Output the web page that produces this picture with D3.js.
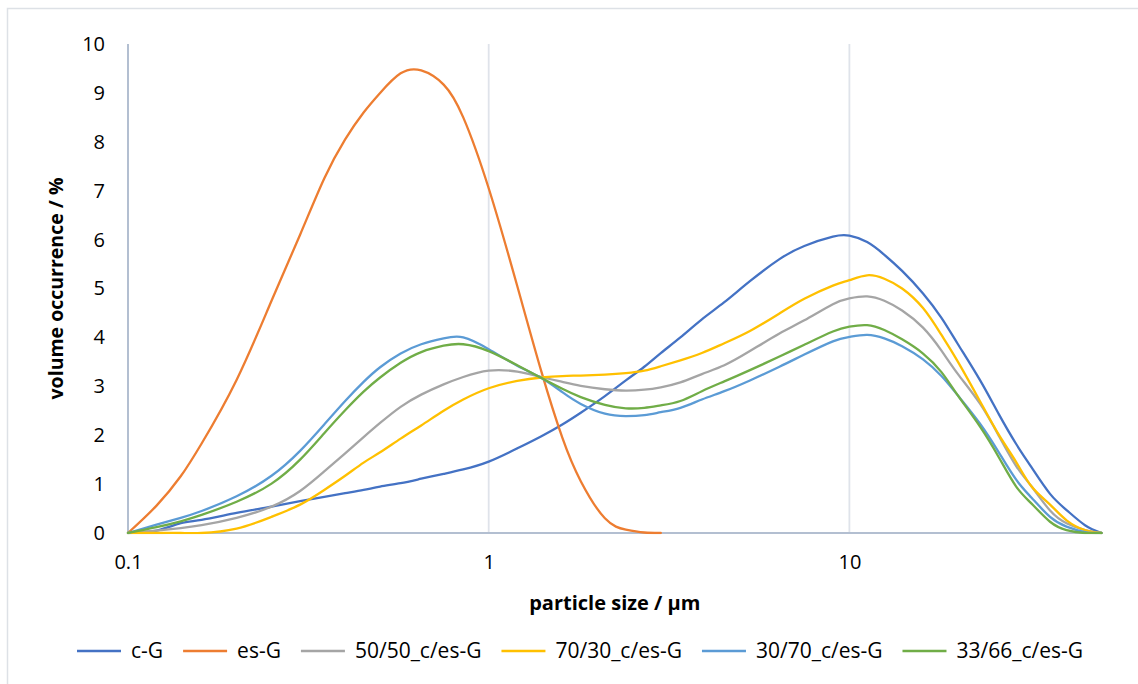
<!DOCTYPE html>
<html>
<head>
<meta charset="utf-8">
<script src="https://cdn.jsdelivr.net/npm/d3@7"></script>
<style>
  html, body { margin: 0; padding: 0; background: #fff; }
  svg { display: block; font-family: "Open Sans", "Liberation Sans", sans-serif; }
</style>
</head>
<body>
<svg id="chart" width="1138" height="684"></svg>
<script>
// Particle size bins (µm)
const sizes = [0.1, 0.12, 0.14, 0.16, 0.2, 0.25, 0.3, 0.35, 0.4, 0.45, 0.5, 0.57, 0.65, 0.75, 0.85,
  1, 1.2, 1.4, 1.6, 1.8, 2.1, 2.4, 2.7, 3.0, 3.4, 3.9, 4.5, 5.3, 6.4, 7.5, 9,
  10, 11.2, 12.5, 14, 16, 18, 20, 23, 26, 29, 32, 36, 40, 45, 50];

// Volume occurrence (%) for each sample
const cG = [0, 0.05, 0.2, 0.27, 0.41, 0.54, 0.65, 0.74, 0.815, 0.88, 0.95, 1.02, 1.11, 1.21, 1.3,
  1.46, 1.73, 1.98, 2.22, 2.46, 2.8, 3.12, 3.4, 3.68, 4.0, 4.37, 4.72, 5.15, 5.6, 5.87, 6.06,
  6.08, 5.95, 5.69, 5.36, 4.9, 4.4, 3.86, 3.13, 2.42, 1.82, 1.34, 0.8, 0.47, 0.16, 0];
const esG = [0, 0.56, 1.16, 1.83, 3.13, 4.75, 6.1, 7.25, 8.05, 8.6, 9.0, 9.4, 9.46, 9.17, 8.5,
  7.05, 5.05, 3.3, 1.95, 1.06, 0.3, 0.07, 0.01, 0, null, null, null, null, null, null, null,
  null, null, null, null, null, null, null, null, null, null, null, null, null, null, null];
const g5050 = [0, 0.05, 0.1, 0.16, 0.31, 0.54, 0.86, 1.26, 1.63, 1.96, 2.25, 2.58, 2.83, 3.04, 3.19,
  3.32, 3.3, 3.19, 3.09, 3.01, 2.94, 2.91, 2.93, 2.98, 3.08, 3.25, 3.43, 3.72, 4.08, 4.35, 4.68,
  4.8, 4.84, 4.75, 4.55, 4.2, 3.73, 3.25, 2.65, 1.98, 1.37, 0.95, 0.46, 0.2, 0.06, 0];
const g7030 = [0, 0, 0, 0, 0.09, 0.33, 0.58, 0.88, 1.17, 1.44, 1.65, 1.93, 2.2, 2.5, 2.73,
  2.96, 3.11, 3.18, 3.21, 3.22, 3.24, 3.27, 3.32, 3.41, 3.53, 3.68, 3.88, 4.13, 4.49, 4.79, 5.06,
  5.17, 5.27, 5.2, 5.0, 4.6, 4.05, 3.5, 2.7, 2.0, 1.45, 0.95, 0.58, 0.26, 0.06, 0];
const g3070 = [0, 0.17, 0.31, 0.45, 0.75, 1.17, 1.68, 2.22, 2.7, 3.09, 3.39, 3.67, 3.86, 3.98, 4.0,
  3.76, 3.42, 3.17, 2.88, 2.64, 2.44, 2.39, 2.41, 2.47, 2.56, 2.73, 2.9, 3.12, 3.4, 3.65, 3.92,
  4.01, 4.05, 3.98, 3.82, 3.55, 3.21, 2.81, 2.24, 1.64, 1.09, 0.72, 0.33, 0.13, 0.02, 0];
const g3366 = [0, 0.12, 0.24, 0.37, 0.64, 1.01, 1.5, 2.04, 2.51, 2.89, 3.18, 3.48, 3.7, 3.83, 3.86,
  3.72, 3.43, 3.17, 2.95, 2.78, 2.62, 2.55, 2.56, 2.61, 2.7, 2.9, 3.1, 3.33, 3.61, 3.85, 4.12,
  4.22, 4.25, 4.15, 3.96, 3.67, 3.29, 2.81, 2.18, 1.54, 0.95, 0.6, 0.23, 0.06, 0, 0];

const seriesNames = ["c-G", "es-G", "50/50_c/es-G", "70/30_c/es-G", "30/70_c/es-G", "33/66_c/es-G"];
const seriesColors = ["#4472C4", "#ED7D31", "#A5A5A5", "#FFC000", "#5B9BD5", "#70AD47"];
const seriesValues = [cG, esG, g5050, g7030, g3070, g3366];

const xTicks = [0.1, 1, 10];
const yTicks = [0, 1, 2, 3, 4, 5, 6, 7, 8, 9, 10];

const svg = d3.select("#chart");

// Outer chart frame
svg.append("rect")
  .attr("x", 7.5).attr("y", 8.5)
  .attr("width", 1140).attr("height", 700)
  .attr("fill", "#fff").attr("stroke", "#dde1e6").attr("stroke-width", 1.5);

const x = d3.scaleLog().domain([0.1, 50]).range([128, 1101.5]);
const y = d3.scaleLinear().domain([0, 10]).range([533, 44]);

// Keep the smoothed curves from dipping below the x axis
svg.append("clipPath").attr("id", "plot-clip")
  .append("rect")
  .attr("x", x(0.1) - 4).attr("y", y(10) - 4)
  .attr("width", x(50) - x(0.1) + 10).attr("height", y(0) - y(10) + 5.2);

// Vertical gridlines
svg.append("g").selectAll("line")
  .data(xTicks.filter(t => t > 0.1))
  .join("line")
  .attr("x1", d => x(d)).attr("x2", d => x(d))
  .attr("y1", y(10)).attr("y2", y(0))
  .attr("stroke", "#dfe3ea").attr("stroke-width", 1.8);

// Axis lines
svg.append("line")
  .attr("x1", x(0.1)).attr("x2", x(0.1))
  .attr("y1", y(10)).attr("y2", y(0))
  .attr("stroke", "#b3bfd1").attr("stroke-width", 2);
svg.append("line")
  .attr("x1", x(0.1)).attr("x2", x(50))
  .attr("y1", y(0)).attr("y2", y(0))
  .attr("stroke", "#b3bfd1").attr("stroke-width", 2);

// Y axis labels
const yAxis = d3.axisLeft(y).tickValues(yTicks).tickSize(0).tickPadding(23).tickFormat(d3.format("d"));
const gy = svg.append("g").attr("transform", `translate(${x(0.1)},0)`).call(yAxis);
gy.select(".domain").remove();
gy.selectAll("text").attr("font-size", 20).attr("fill", "#000")
  .attr("font-family", "\"Open Sans\", sans-serif");

// X axis labels
const xAxis = d3.axisBottom(x).tickValues(xTicks).tickSize(0).tickPadding(22).tickFormat(d => String(d));
const gx = svg.append("g").attr("transform", `translate(0,${y(0)})`).call(xAxis);
gx.select(".domain").remove();
gx.selectAll("text").attr("font-size", 20).attr("fill", "#000")
  .attr("font-family", "\"Open Sans\", sans-serif");

// Axis titles
svg.append("text")
  .attr("transform", `translate(63,${(y(0) + y(10)) / 2}) rotate(-90)`)
  .attr("text-anchor", "middle")
  .attr("font-size", 19.5).attr("font-weight", "bold")
  .text("volume occurrence / %");
svg.append("text")
  .attr("x", (x(0.1) + x(50)) / 2).attr("y", 610)
  .attr("text-anchor", "middle")
  .attr("font-size", 20).attr("font-weight", "bold")
  .text("particle size / µm");

// Series curves, smoothed through the sample points
const line = d3.line()
  .defined(d => d[1] != null)
  .x(d => x(d[0]))
  .y(d => y(d[1]))
  .curve(d3.curveNatural);

svg.append("g").attr("clip-path", "url(#plot-clip)")
  .selectAll("path")
  .data(seriesValues)
  .join("path")
  .attr("d", vals => line(sizes.map((s, i) => [s, vals[i]])))
  .attr("fill", "none")
  .attr("stroke", (d, i) => seriesColors[i])
  .attr("stroke-width", 2.3)
  .attr("stroke-linejoin", "round")
  .attr("stroke-linecap", "round");

// Legend: spread the entries across the legend band, centred under the plot
const legendLeft = 77, legendRight = 1083;
const legend = svg.append("g").attr("transform", "translate(0,651)");
const items = legend.selectAll("g").data(seriesNames).join("g");
items.append("line")
  .attr("x1", 0).attr("x2", 44).attr("y1", 0).attr("y2", 0)
  .attr("stroke", (d, i) => seriesColors[i]).attr("stroke-width", 2.5);
items.append("text")
  .attr("x", 54).attr("y", 0).attr("dy", "0.35em")
  .attr("font-size", 21)
  .text(d => d);
const widths = [];
items.each(function () {
  widths.push(54 + d3.select(this).select("text").node().getComputedTextLength());
});
const gap = (legendRight - legendLeft - d3.sum(widths)) / (widths.length - 1);
let cursor = legendLeft;
items.each(function (d, i) {
  d3.select(this).attr("transform", `translate(${cursor},0)`);
  cursor += widths[i] + gap;
});
</script>
</body>
</html>
